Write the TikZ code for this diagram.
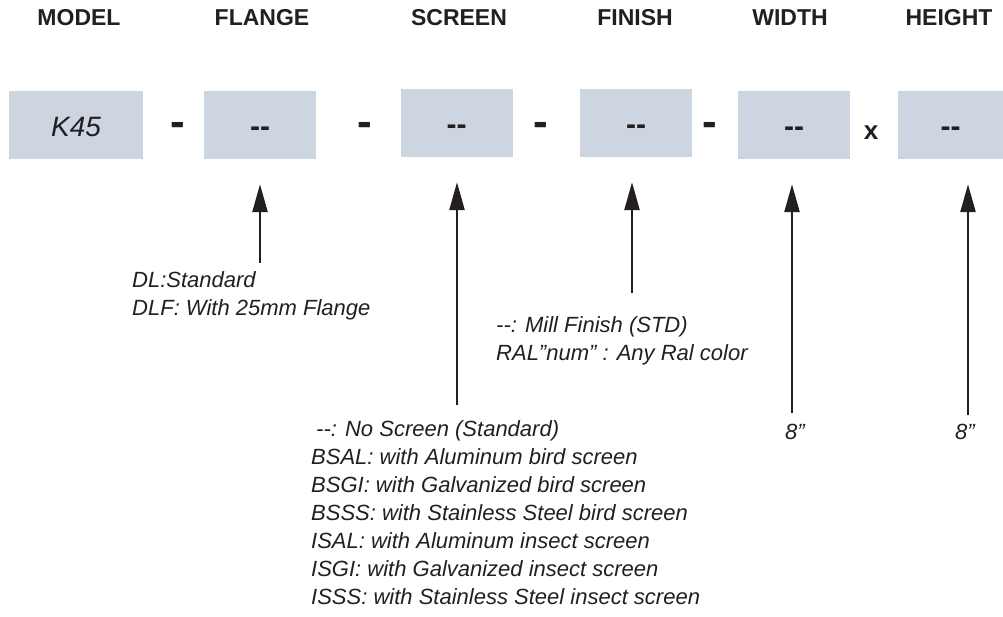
\documentclass[tikz,border=0pt]{standalone}
\usepackage{fontspec}
\setmainfont{Liberation Sans}
\usetikzlibrary{arrows.meta}
\definecolor{boxfill}{HTML}{CDD5E0}
\definecolor{ink}{HTML}{231F20}

\begin{document}
\begin{tikzpicture}[
        x=1pt, y=-1pt, % координаты в пикселях
        field/.style = {fill=boxfill, minimum width=112pt, minimum height=68pt, inner sep=0pt, text=ink,
            text height=22pt, text depth=0pt, font=\fontsize{30}{30}\selectfont\bfseries}, % поля кода
        head/.style = {text=ink, font=\fontsize{23}{23}\selectfont\bfseries}, % заголовки
        sep/.style = {text=ink, inner sep=0pt, font=\fontsize{44}{44}\selectfont\bfseries},
        note/.style = {text=ink, align=left, inner sep=0pt, anchor=west,
            font=\fontsize{22}{28}\selectfont\itshape}, % пояснения
        pointer/.style = {draw=ink, line width=2.5pt, -{Triangle[width=15pt, length=28pt]}, shorten >=25pt},
    ]
    \useasboundingbox (0,0) rectangle (1003,616);

    % заголовки
    \node[head] (h-model) at (79,18) {MODEL};
    \node[head] (h-flange) at (262,18) {FLANGE};
    \node[head] (h-screen) at (459,18) {SCREEN};
    \node[head] (h-finish) at (635,18) {FINISH};
    \node[head] (h-width) at (790,18) {WIDTH};
    \node[head] (h-height) at (949,18) {HEIGHT};

    % поля
    \node[field, minimum width=134pt, text height=24pt, font=\fontsize{28}{28}\selectfont\itshape] (model) at (76,124.5) {K45};
    \node[field] (flange) at (260,125) {-{}-};
    \node[field] (screen) at (456.5,123) {-{}-};
    \node[field] (finish) at (636,123) {-{}-};
    \node[field] (width) at (794,125) {-{}-};
    \node[field, minimum width=105pt] (height) at (950.5,125) {-{}-};

    \node[sep] (s1) at (178,129) {-};
    \node[sep] (s2) at (365,129) {-};
    \node[sep] (s3) at (541,129) {-};
    \node[sep] (s4) at (710,129) {-};
    \node[sep, font=\fontsize{26}{26}\selectfont\bfseries] (s5) at (871,133) {x};

    % пояснения
    \node[note] (n-flange) at (132,296) {DL:Standard\\DLF: With 25mm Flange};
    \node[note] (n-finish) at (496,341) {-{}-: Mill Finish (STD)\\RAL”num” : Any Ral color};
    \node[note] (n-screen) at (311,513) {\hspace{5pt}-{}-: No Screen (Standard)\\
        BSAL: with Aluminum bird screen\\
        BSGI: with Galvanized bird screen\\
        BSSS: with Stainless Steel bird screen\\
        ISAL: with Aluminum insect screen\\
        ISGI: with Galvanized insect screen\\
        ISSS: with Stainless Steel insect screen};
    \node[note, anchor=center] (n-width) at (795,432) {8”};
    \node[note, anchor=center] (n-height) at (965,432) {8”};

    % стрелки
    \coordinate (e-flange) at (260,263);
    \coordinate (e-screen) at (457,405);
    \coordinate (e-finish) at (632,293);
    \coordinate (e-width) at (792,413);
    \coordinate (e-height) at (968,415);
    \draw[pointer] (e-flange) -- (e-flange |- flange.south);
    \draw[pointer] (e-screen) -- (e-screen |- screen.south);
    \draw[pointer] (e-finish) -- (e-finish |- finish.south);
    \draw[pointer] (e-width) -- (e-width |- width.south);
    \draw[pointer] (e-height) -- (e-height |- height.south);
\end{tikzpicture}
\end{document}
